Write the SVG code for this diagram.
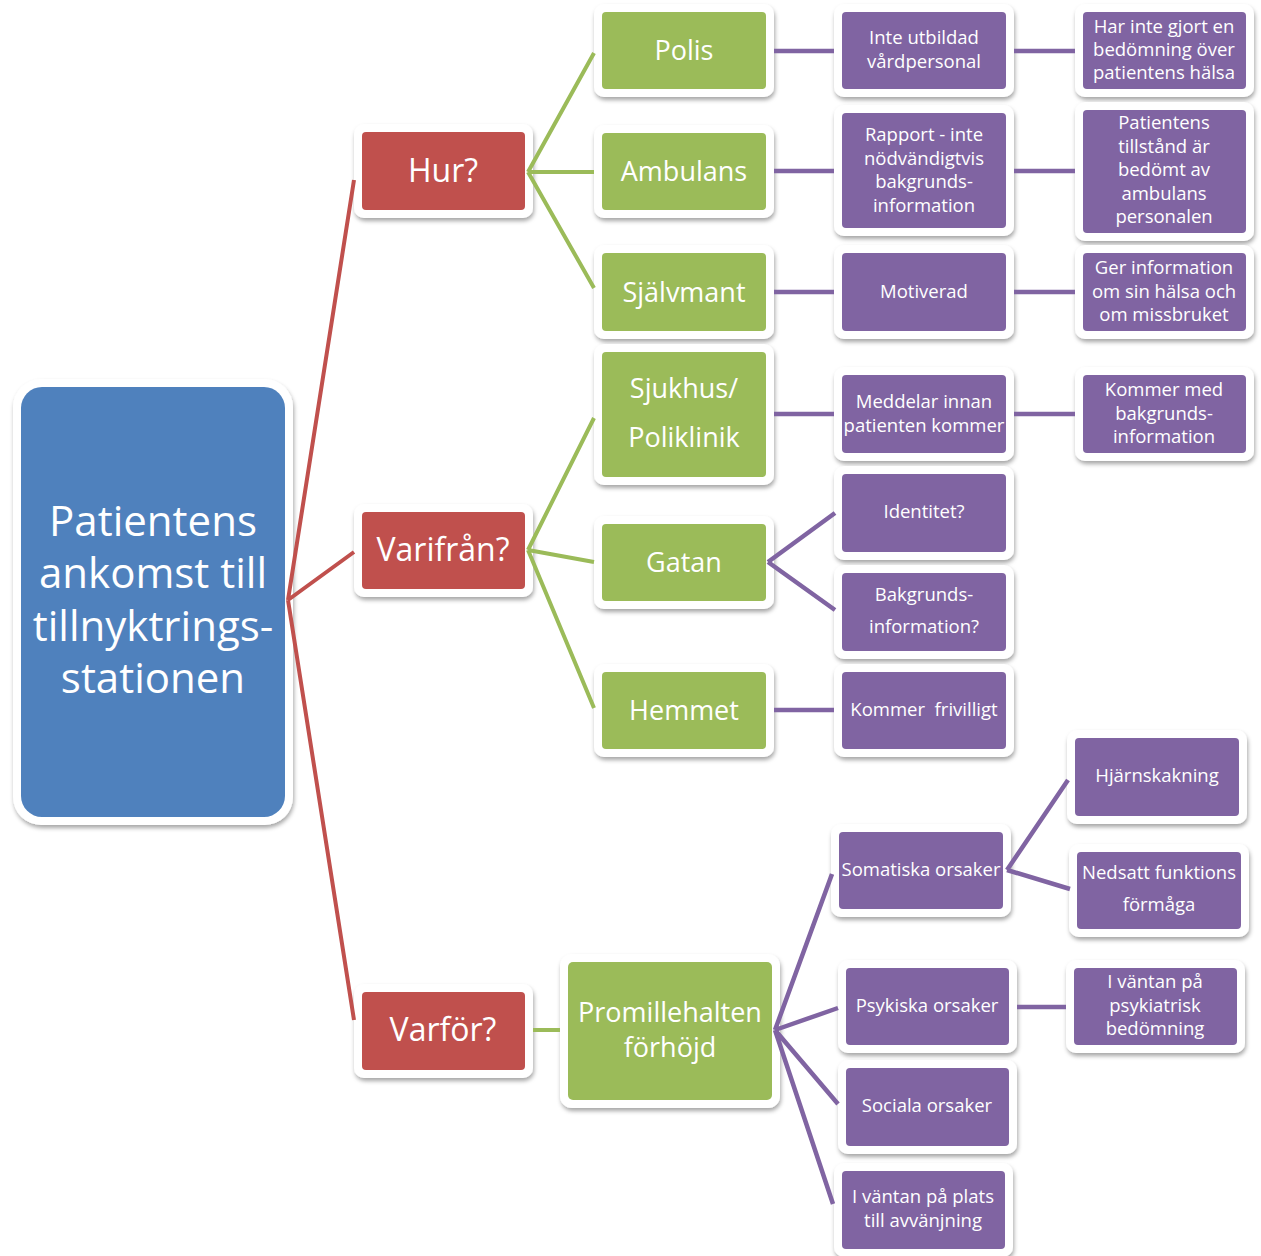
<svg xmlns="http://www.w3.org/2000/svg" width="1261" height="1256" viewBox="0 0 1261 1256">
<defs>
<filter id="sh" x="-20%" y="-20%" width="140%" height="150%">
<feDropShadow dx="1" dy="3" stdDeviation="2.2" flood-color="#000" flood-opacity="0.35"/>
</filter>
</defs>
<style>
.w{fill:#fff;filter:url(#sh)}
.b{fill:#4F81BD}
.r{fill:#C0504D}
.g{fill:#9BBB59}
.p{fill:#8064A2}
text{font-family:"Open Sans","Noto Sans","DejaVu Sans",sans-serif;fill:#fff;text-anchor:middle}
.t1{font-size:42px}
.t2{font-size:32px}
.t3{font-size:27px}
.t4{font-size:18.5px}
.lr{stroke:#C0504D;stroke-width:4;fill:none}
.lg{stroke:#9BBB59;stroke-width:4;fill:none}
.lp{stroke:#8064A2;stroke-width:4.5;fill:none}
</style>
<rect width="1261" height="1256" fill="#fff"/>
<g id="root">
<rect class="w" x="13" y="379" width="280" height="446" rx="28"/>
<rect class="b" x="21" y="387" width="264" height="430" rx="21"/>
<text class="t1" x="153" y="536">Patientens</text>
<text class="t1" x="153" y="588">ankomst till</text>
<text class="t1" x="153" y="641">tillnyktrings-</text>
<text class="t1" x="153" y="693">stationen</text>
</g>
<g id="hur">
<rect class="w" x="354" y="124" width="179" height="94" rx="10"/>
<rect class="r" x="362" y="132" width="163" height="78" rx="4"/>
<text class="t2" x="443" y="182">Hur?</text>
</g>
<g id="varifran">
<rect class="w" x="354" y="504" width="179" height="93" rx="10"/>
<rect class="r" x="362" y="512" width="163" height="77" rx="4"/>
<text class="t2" x="443" y="561">Varifrån?</text>
</g>
<g id="varfor">
<rect class="w" x="354" y="984" width="179" height="94" rx="10"/>
<rect class="r" x="362" y="992" width="163" height="78" rx="4"/>
<text class="t2" x="443" y="1041">Varför?</text>
</g>
<g id="polis">
<rect class="w" x="594" y="4" width="180" height="93" rx="10"/>
<rect class="g" x="602" y="12" width="164" height="77" rx="4"/>
<text class="t3" x="684" y="60">Polis</text>
</g>
<g id="ambulans">
<rect class="w" x="594" y="125" width="180" height="93" rx="10"/>
<rect class="g" x="602" y="133" width="164" height="77" rx="4"/>
<text class="t3" x="684" y="181">Ambulans</text>
</g>
<g id="sjalvmant">
<rect class="w" x="594" y="245" width="180" height="94" rx="10"/>
<rect class="g" x="602" y="253" width="164" height="78" rx="4"/>
<text class="t3" x="684" y="302">Självmant</text>
</g>
<g id="sjukhus">
<rect class="w" x="594" y="344" width="180" height="141" rx="10"/>
<rect class="g" x="602" y="352" width="164" height="125" rx="4"/>
<text class="t3" x="684" y="398">Sjukhus/</text>
<text class="t3" x="684" y="447">Poliklinik</text>
</g>
<g id="gatan">
<rect class="w" x="594" y="516" width="180" height="93" rx="10"/>
<rect class="g" x="602" y="524" width="164" height="77" rx="4"/>
<text class="t3" x="684" y="572">Gatan</text>
</g>
<g id="hemmet">
<rect class="w" x="594" y="664" width="180" height="93" rx="10"/>
<rect class="g" x="602" y="672" width="164" height="77" rx="4"/>
<text class="t3" x="684" y="720">Hemmet</text>
</g>
<g id="promillehalten">
<rect class="w" x="560" y="954" width="220" height="154" rx="12"/>
<rect class="g" x="568" y="962" width="204" height="138" rx="5"/>
<text class="t3" x="670" y="1022">Promillehalten</text>
<text class="t3" x="670" y="1057">förhöjd</text>
</g>
<g id="inte-utbildad">
<rect class="w" x="834" y="4" width="180" height="93" rx="10"/>
<rect class="p" x="842" y="12" width="164" height="77" rx="4"/>
<text class="t4" x="924" y="44">Inte utbildad</text>
<text class="t4" x="924" y="68">vårdpersonal</text>
</g>
<g id="har-inte-gjort">
<rect class="w" x="1075" y="4" width="179" height="93" rx="10"/>
<rect class="p" x="1083" y="12" width="163" height="77" rx="4"/>
<text class="t4" x="1164" y="33">Har inte gjort en</text>
<text class="t4" x="1164" y="56">bedömning över</text>
<text class="t4" x="1164" y="79">patientens hälsa</text>
</g>
<g id="rapport">
<rect class="w" x="834" y="105" width="180" height="131" rx="10"/>
<rect class="p" x="842" y="113" width="164" height="115" rx="4"/>
<text class="t4" x="924" y="141">Rapport - inte</text>
<text class="t4" x="924" y="165">nödvändigtvis</text>
<text class="t4" x="924" y="188">bakgrunds-</text>
<text class="t4" x="924" y="212">information</text>
</g>
<g id="patientens-tillstand">
<rect class="w" x="1075" y="102" width="179" height="139" rx="10"/>
<rect class="p" x="1083" y="110" width="163" height="123" rx="4"/>
<text class="t4" x="1164" y="129">Patientens</text>
<text class="t4" x="1164" y="153">tillstånd är</text>
<text class="t4" x="1164" y="176">bedömt av</text>
<text class="t4" x="1164" y="200">ambulans</text>
<text class="t4" x="1164" y="223">personalen</text>
</g>
<g id="motiverad">
<rect class="w" x="834" y="245" width="180" height="94" rx="10"/>
<rect class="p" x="842" y="253" width="164" height="78" rx="4"/>
<text class="t4" x="924" y="298">Motiverad</text>
</g>
<g id="ger-information">
<rect class="w" x="1075" y="245" width="179" height="94" rx="10"/>
<rect class="p" x="1083" y="253" width="163" height="78" rx="4"/>
<text class="t4" x="1164" y="274">Ger information</text>
<text class="t4" x="1164" y="298">om sin hälsa och</text>
<text class="t4" x="1164" y="321">om missbruket</text>
</g>
<g id="meddelar">
<rect class="w" x="834" y="367" width="180" height="94" rx="10"/>
<rect class="p" x="842" y="375" width="164" height="78" rx="4"/>
<text class="t4" x="924" y="408">Meddelar innan</text>
<text class="t4" x="924" y="432">patienten kommer</text>
</g>
<g id="kommer-med">
<rect class="w" x="1075" y="367" width="179" height="94" rx="10"/>
<rect class="p" x="1083" y="375" width="163" height="78" rx="4"/>
<text class="t4" x="1164" y="396">Kommer med</text>
<text class="t4" x="1164" y="420">bakgrunds-</text>
<text class="t4" x="1164" y="443">information</text>
</g>
<g id="identitet">
<rect class="w" x="834" y="466" width="180" height="94" rx="10"/>
<rect class="p" x="842" y="474" width="164" height="78" rx="4"/>
<text class="t4" x="924" y="518">Identitet?</text>
</g>
<g id="bakgrundsinformation">
<rect class="w" x="834" y="565" width="180" height="94" rx="10"/>
<rect class="p" x="842" y="573" width="164" height="78" rx="4"/>
<text class="t4" x="924" y="601">Bakgrunds-</text>
<text class="t4" x="924" y="633">information?</text>
</g>
<g id="kommer-frivilligt">
<rect class="w" x="834" y="664" width="180" height="93" rx="10"/>
<rect class="p" x="842" y="672" width="164" height="77" rx="4"/>
<text class="t4" x="924" y="716" style="white-space:pre">Kommer  frivilligt</text>
</g>
<g id="hjarnskakning">
<rect class="w" x="1067" y="730" width="180" height="94" rx="10"/>
<rect class="p" x="1075" y="738" width="164" height="78" rx="4"/>
<text class="t4" x="1157" y="782">Hjärnskakning</text>
</g>
<g id="nedsatt">
<rect class="w" x="1069" y="844" width="180" height="93" rx="10"/>
<rect class="p" x="1077" y="852" width="164" height="77" rx="4"/>
<text class="t4" x="1159" y="879">Nedsatt funktions</text>
<text class="t4" x="1159" y="911">förmåga</text>
</g>
<g id="somatiska">
<rect class="w" x="831" y="824" width="180" height="93" rx="10"/>
<rect class="p" x="839" y="832" width="164" height="77" rx="4"/>
<text class="t4" x="921" y="876">Somatiska orsaker</text>
</g>
<g id="psykiska">
<rect class="w" x="838" y="960" width="179" height="93" rx="10"/>
<rect class="p" x="846" y="968" width="163" height="77" rx="4"/>
<text class="t4" x="927" y="1012">Psykiska orsaker</text>
</g>
<g id="i-vantan-psykiatrisk">
<rect class="w" x="1066" y="960" width="179" height="93" rx="10"/>
<rect class="p" x="1074" y="968" width="163" height="77" rx="4"/>
<text class="t4" x="1155" y="988">I väntan på</text>
<text class="t4" x="1155" y="1012">psykiatrisk</text>
<text class="t4" x="1155" y="1035">bedömning</text>
</g>
<g id="sociala">
<rect class="w" x="838" y="1060" width="179" height="94" rx="10"/>
<rect class="p" x="846" y="1068" width="163" height="78" rx="4"/>
<text class="t4" x="927" y="1112">Sociala orsaker</text>
</g>
<g id="i-vantan-plats">
<rect class="w" x="834" y="1163" width="179" height="94" rx="10"/>
<rect class="p" x="842" y="1171" width="163" height="78" rx="4"/>
<text class="t4" x="923" y="1203">I väntan på plats</text>
<text class="t4" x="923" y="1227">till avvänjning</text>
</g>
<g id="connectors">
<path class="lr" d="M288 600 L354 180 M288 600 L354 552 M288 600 L354 1020"/>
<path class="lg" d="M528 172 L594 53 M528 172 L594 172 M528 172 L594 288"/>
<path class="lg" d="M528 550 L594 418 M528 550 L594 562 M528 550 L594 708"/>
<path class="lg" d="M533 1030 L560 1030"/>
<path class="lp" d="M774 51 L834 51 M1014 51 L1075 51"/>
<path class="lp" d="M774 171 L834 171 M1014 171 L1075 171"/>
<path class="lp" d="M774 292 L834 292 M1014 292 L1075 292"/>
<path class="lp" d="M774 414 L834 414 M1014 414 L1075 414"/>
<path class="lp" d="M768 562 L835 513 M768 562 L835 610"/>
<path class="lp" d="M774 710 L834 710"/>
<path class="lp" d="M775 1030 L832 874 M775 1030 L838 1008 M775 1030 L838 1104 M775 1030 L833 1204"/>
<path class="lp" d="M1007 870 L1068 780 M1007 870 L1070 889"/>
<path class="lp" d="M1017 1007 L1066 1007"/>
</g>
</svg>
